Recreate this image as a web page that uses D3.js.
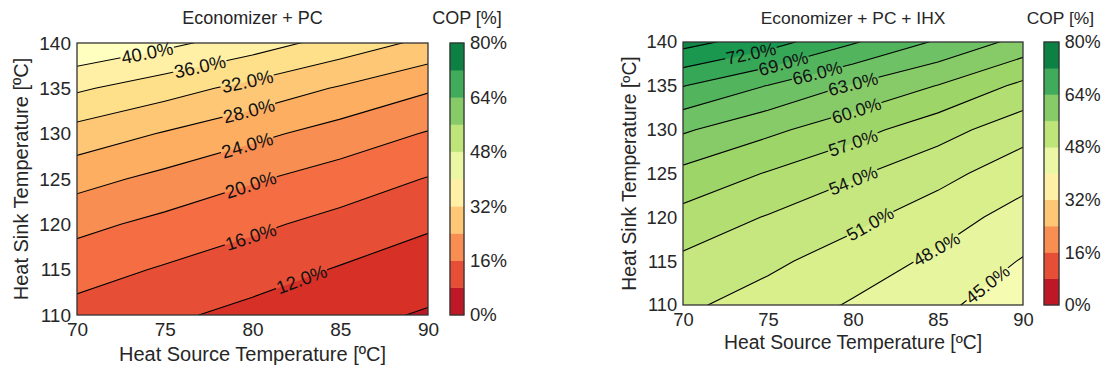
<!DOCTYPE html>
<html>
<head>
<meta charset="utf-8">
<script src="https://cdn.jsdelivr.net/npm/d3@7"></script>
<style>
  body { margin: 0; background: #fff; }
  svg { display: block; }
</style>
</head>
<body>
<svg id="fig" width="1103" height="371"></svg>
<script>
// axes values
const sourceTemps = [70, 75, 80, 85, 90];
const sinkTemps = [110, 115, 120, 125, 130, 135, 140];

// COP [%], one row per sink temperature (110 -> 140),
// one column per source temperature (70 -> 90)
const copPC = [
  [14.6, 12.7, 10.9,  9.2,  7.6],
  [17.6, 15.6, 13.7, 11.7, 10.0],
  [21.1, 18.9, 16.8, 14.7, 12.5],
  [25.4, 22.9, 20.4, 18.2, 15.8],
  [30.4, 27.7, 25.0, 22.3, 19.7],
  [36.6, 33.7, 30.7, 27.6, 24.5],
  [43.6, 41.0, 37.9, 34.4, 31.0]
];
const copPCIHX = [
  [51.5, 49.8, 47.7, 45.7, 43.1],
  [53.4, 51.6, 49.6, 47.4, 44.8],
  [56.0, 53.8, 51.8, 49.4, 46.8],
  [59.2, 56.8, 54.4, 52.0, 49.2],
  [63.4, 60.7, 58.1, 55.2, 52.2],
  [69.1, 65.9, 62.7, 59.9, 56.3],
  [76.1, 73.3, 69.3, 65.6, 62.0]
];

// filled band edges and contour line levels
const bandsPC = [4, 8, 12, 16, 20, 24, 28, 32, 36, 40, 44];
const levelsPC = [8, 12, 16, 20, 24, 28, 32, 36, 40];
const bandsPCIHX = [42, 45, 48, 51, 54, 57, 60, 63, 66, 69, 72, 75];
const levelsPCIHX = [45, 48, 51, 54, 57, 60, 63, 66, 69, 72, 75];

// inline labels: level and source temperature where it sits
const labelLevelsPC = [40, 36, 32, 28, 24, 20, 16, 12];
const labelXPC = [74.0, 77.0, 79.7, 79.8, 79.7, 79.9, 79.9, 82.8];
const labelLevelsPCIHX = [72, 69, 66, 63, 60, 57, 54, 51, 48, 45];
const labelXPCIHX = [74.0, 75.9, 77.9, 80.0, 80.2, 80.0, 80.0, 81.0, 84.9, 87.9];

// colorbar
const cbarBounds = [0, 8, 16, 24, 32, 40, 48, 56, 64, 72, 80];
const cbarTicks = [0, 16, 32, 48, 64, 80];
const copMax = 80;

const FONT = '"Liberation Sans", Arial, sans-serif';
const TEXT = '#262626';
const SPINE = '#333';

const svg = d3.select('#fig');
const defs = svg.append('defs');

// matplotlib-like RdYlGn: linear segments between the 11 brewer colours
const cmap = d3.scaleLinear()
  .domain(d3.range(11).map(i => i / 10))
  .range(d3.schemeRdYlGn[11])
  .interpolate(d3.interpolateRgb);

function drawPanel(cfg) {
  const k = cfg.k;
  const nx = sourceTemps.length, ny = sinkTemps.length;
  const x = d3.scaleLinear().domain([sourceTemps[0], sourceTemps[nx - 1]]).range([cfg.left, cfg.right]);
  const y = d3.scaleLinear().domain([sinkTemps[0], sinkTemps[ny - 1]]).range([cfg.bottom, cfg.top]);
  // d3.contours puts sample i at grid coordinate i + 0.5
  const gx = d3.scaleLinear().domain([0.5, nx - 0.5]).range(x.domain());
  const gy = d3.scaleLinear().domain([0.5, ny - 0.5]).range(y.domain());
  const toPx = p => [x(gx(p[0])), y(gy(p[1]))];
  const path = d3.geoPath(d3.geoTransform({
    point(a, b) { const p = toPx([a, b]); this.stream.point(p[0], p[1]); }
  }));
  const values = cfg.cop.flat();

  const g = svg.append('g');

  defs.append('clipPath').attr('id', cfg.id + '-clip')
    .append('rect')
    .attr('x', cfg.left).attr('y', cfg.top)
    .attr('width', cfg.right - cfg.left).attr('height', cfg.bottom - cfg.top);

  const plot = g.append('g').attr('clip-path', `url(#${cfg.id}-clip)`);

  // filled bands, coloured by their lower edge
  const bands = d3.contours().size([nx, ny]).thresholds(cfg.bands)(values);
  plot.append('g').selectAll('path')
    .data(bands)
    .join('path')
    .attr('d', path)
    .attr('fill', d => cmap(d.value / copMax))
    .attr('stroke', d => cmap(d.value / copMax))
    .attr('stroke-width', 0.6);

  // contour lines (masked under the labels)
  const mask = defs.append('mask').attr('id', cfg.id + '-mask')
    .attr('maskUnits', 'userSpaceOnUse')
    .attr('x', 0).attr('y', 0).attr('width', 1103).attr('height', 371);
  mask.append('rect').attr('x', 0).attr('y', 0).attr('width', 1103).attr('height', 371).attr('fill', '#fff');

  const lines = d3.contours().size([nx, ny]).thresholds(cfg.levels)(values);
  plot.append('g').attr('mask', `url(#${cfg.id}-mask)`)
    .selectAll('path')
    .data(lines)
    .join('path')
    .attr('d', path)
    .attr('fill', 'none')
    .attr('stroke', '#000')
    .attr('stroke-width', 1.1);

  // inline labels
  const fs = 18.5 * k;
  cfg.labelLevels.forEach((lev, i) => {
    const contour = lines.find(c => c.value === lev);
    if (!contour) return;
    const px = x(cfg.labelX[i]);
    let best = null;
    contour.coordinates.forEach(poly => poly.forEach(ring => {
      for (let j = 1; j < ring.length; j++) {
        const a = toPx(ring[j - 1]), b = toPx(ring[j]);
        if (a[0] === b[0] || (a[0] - px) * (b[0] - px) > 0) continue;
        const t = (px - a[0]) / (b[0] - a[0]);
        const py = a[1] + t * (b[1] - a[1]);
        if (py < cfg.top || py > cfg.bottom) continue;
        let ang = Math.atan2(b[1] - a[1], b[0] - a[0]) * 180 / Math.PI;
        if (ang > 90) ang -= 180;
        if (ang < -90) ang += 180;
        best = { px, py, ang };
      }
    }));
    if (!best) return;
    const tr = `translate(${best.px},${best.py}) rotate(${best.ang})`;
    const txt = g.append('text')
      .attr('transform', tr)
      .attr('text-anchor', 'middle')
      .attr('dy', '0.36em')
      .attr('font-family', FONT)
      .attr('font-size', fs)
      .attr('fill', '#111')
      .text(lev.toFixed(1) + '%');
    const w = txt.node().getComputedTextLength();
    mask.append('rect')
      .attr('transform', tr)
      .attr('x', -w / 2 - 1).attr('y', -fs * 0.4)
      .attr('width', w + 2).attr('height', fs * 0.8)
      .attr('fill', '#000');
  });

  // frame
  g.append('rect')
    .attr('x', cfg.left).attr('y', cfg.top)
    .attr('width', cfg.right - cfg.left).attr('height', cfg.bottom - cfg.top)
    .attr('fill', 'none').attr('stroke', SPINE).attr('stroke-width', 1.3);

  const styleAxis = (sel, size) => {
    sel.select('.domain').remove();
    sel.attr('font-family', FONT).attr('font-size', size);
    sel.selectAll('text').attr('fill', TEXT);
  };

  g.append('g')
    .attr('transform', `translate(0,${cfg.bottom})`)
    .call(d3.axisBottom(x).tickValues(sourceTemps).tickSize(0).tickPadding(8 * k))
    .call(s => styleAxis(s, 19 * k));

  g.append('g')
    .attr('transform', `translate(${cfg.left},0)`)
    .call(d3.axisLeft(y).tickValues(sinkTemps).tickSize(0).tickPadding(6 * k))
    .call(s => styleAxis(s, 19 * k));

  // axis titles
  g.append('text')
    .attr('x', (cfg.left + cfg.right) / 2).attr('y', cfg.bottom + 46 * k)
    .attr('text-anchor', 'middle')
    .attr('font-family', FONT).attr('font-size', 20 * k).attr('fill', TEXT)
    .text('Heat Source Temperature [ºC]');

  g.append('text')
    .attr('transform', `translate(${cfg.left - 49 * k},${(cfg.top + cfg.bottom) / 2}) rotate(-90)`)
    .attr('text-anchor', 'middle')
    .attr('font-family', FONT).attr('font-size', 20 * k).attr('fill', TEXT)
    .text('Heat Sink Temperature [ºC]');

  g.append('text')
    .attr('x', (cfg.left + cfg.right) / 2).attr('y', cfg.top - 19 * k)
    .attr('text-anchor', 'middle')
    .attr('font-family', FONT).attr('font-size', 18 * k).attr('fill', TEXT)
    .text(cfg.title);

  // colorbar
  const cy = d3.scaleLinear().domain([0, copMax]).range([cfg.bottom, cfg.top]);
  const cb = g.append('g');
  cb.selectAll('rect')
    .data(d3.pairs(cbarBounds))
    .join('rect')
    .attr('x', cfg.cbX).attr('width', cfg.cbW)
    .attr('y', d => cy(d[1]))
    .attr('height', d => cy(d[0]) - cy(d[1]))
    .attr('fill', d => cmap((d[0] + d[1]) / 2 / copMax))
    .attr('stroke', d => cmap((d[0] + d[1]) / 2 / copMax))
    .attr('stroke-width', 0.5);
  cb.append('rect')
    .attr('x', cfg.cbX).attr('y', cfg.top)
    .attr('width', cfg.cbW).attr('height', cfg.bottom - cfg.top)
    .attr('fill', 'none').attr('stroke', SPINE).attr('stroke-width', 1.3);

  g.append('g')
    .attr('transform', `translate(${cfg.cbX + cfg.cbW},0)`)
    .call(d3.axisRight(cy).tickValues(cbarTicks).tickFormat(d => d + '%').tickSize(0).tickPadding(6 * k))
    .call(s => styleAxis(s, 18.5 * k));

  g.append('text')
    .attr('x', cfg.cbX + 17 * k).attr('y', cfg.top - 19 * k)
    .attr('text-anchor', 'middle')
    .attr('font-family', FONT).attr('font-size', 18 * k).attr('fill', TEXT)
    .text('COP [%]');
}

drawPanel({
  id: 'pc', title: 'Economizer + PC', cop: copPC,
  bands: bandsPC, levels: levelsPC,
  labelLevels: labelLevelsPC, labelX: labelXPC,
  left: 77, right: 428, top: 43, bottom: 315, cbX: 450, cbW: 14, k: 1
});

drawPanel({
  id: 'ihx', title: 'Economizer + PC + IHX', cop: copPCIHX,
  bands: bandsPCIHX, levels: levelsPCIHX,
  labelLevels: labelLevelsPCIHX, labelX: labelXPCIHX,
  left: 683, right: 1023, top: 42, bottom: 305, cbX: 1044, cbW: 15, k: 0.967
});
</script>
</body>
</html>
